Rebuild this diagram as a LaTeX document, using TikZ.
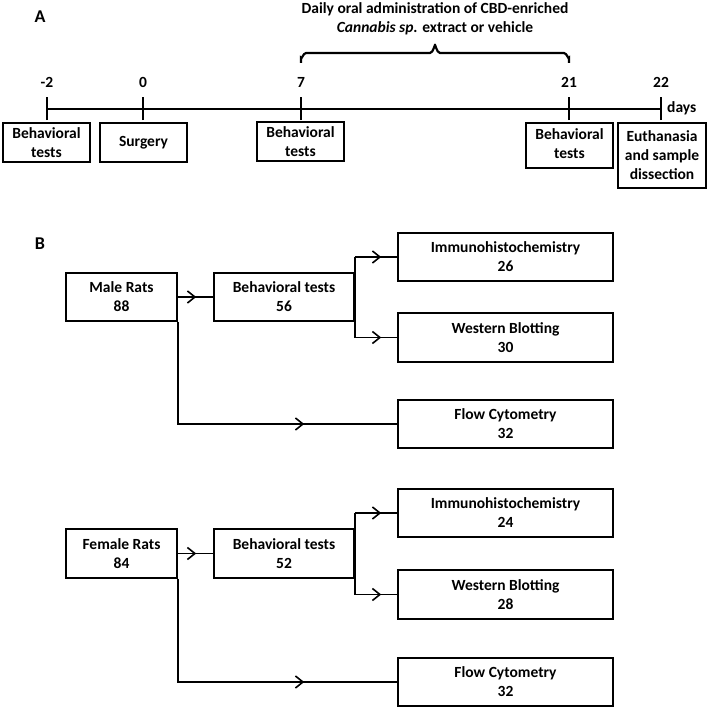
\documentclass[tikz,border=0pt]{standalone}
\usepackage{fontspec}
\setmainfont{Carlito}
\usetikzlibrary{arrows.meta,decorations.markings}
\begin{document}
\begin{tikzpicture}[x=1pt,y=-1pt,
  font=\fontsize{15.5}{19}\selectfont\bfseries,
  box/.style={draw,line width=1.6pt,inner sep=0pt,align=center},
  tl/.style={line width=2.8pt},
  conn/.style={line width=1.8pt},
  panel/.style={font=\fontsize{18}{20}\selectfont\bfseries},
  arr/.style={conn,decoration={markings,mark=at position #1 with {\arrow{Straight Barb[length=7.5pt,width=12pt,line width=1.6pt]}}},postaction={decorate}}]
\useasboundingbox (0,0) rectangle (709,709);
% Panel A
\node[panel] (lA) at (40,17) {A};
\coordinate (tm2) at (47,109);
\coordinate (t0) at (143,109);
\coordinate (t7) at (301,109);
\coordinate (t21) at (569,109);
\coordinate (t22) at (661,109);
\draw[tl] (tm2) -- (t22);
\foreach \c in {tm2,t0,t7,t21,t22}{
  \draw[tl] ([yshift=-11pt]\c) -- ([yshift=12pt]\c);
}
\node (nm2) at (47,82) {-2};
\node (n0) at (143,82) {0};
\node (n7) at (301,82) {7};
\node (n21) at (569,82) {21};
\node (n22) at (661,82) {22};
\node[anchor=west,inner sep=0pt] (days) at (667,108) {days};
\node[box,minimum width=87pt,minimum height=39pt,anchor=north] (a1) at (46.5,122) {Behavioral\\tests};
\node[box,minimum width=87pt,minimum height=39pt,anchor=north] (a2) at (143.5,122) {Surgery};
\node[box,minimum width=87pt,minimum height=39pt,anchor=north] (a3) at (300.5,121) {Behavioral\\tests};
\node[box,minimum width=87pt,minimum height=45pt,anchor=north] (a4) at (569.5,122) {};
\node[align=center,inner sep=0pt] (a4t) at (569.5,143.5) {Behavioral\\tests};
\node[box,minimum width=88pt,minimum height=65pt,anchor=north] (a5) at (662,122) {Euthanasia\\and sample\\dissection};
% brace
\draw[line width=2.2pt] (301,63) -- (301,58) to[out=-90,in=180] (306,53) -- (430,53)
  to[out=0,in=90] (435,46) to[out=90,in=180] (440,53) -- (564,53)
  to[out=0,in=-90] (569,58) -- (569,63);
\node[align=center] (trt) at (435,19) {Daily oral administration of CBD-enriched\\\textit{Cannabis sp.} extract or vehicle};
% Panel B
\node[panel] (lB) at (40,244) {B};
\node[box,minimum width=111pt,minimum height=48pt] (male) at (121.5,297) {Male Rats\\88};
\node[box,minimum width=140pt,minimum height=48pt] (beh1) at (284,297) {Behavioral tests\\56};
\node[box,minimum width=215pt,minimum height=48pt] (imm1) at (505.5,257) {Immunohistochemistry\\26};
\node[box,minimum width=215pt,minimum height=49pt] (wb1) at (505.5,337.5) {Western Blotting\\30};
\node[box,minimum width=215pt,minimum height=48pt] (fc1) at (505.5,424) {Flow Cytometry\\32};
\node[box,minimum width=111pt,minimum height=49pt] (female) at (121.5,553.5) {Female Rats\\84};
\node[box,minimum width=140pt,minimum height=49pt] (beh2) at (284,553.5) {Behavioral tests\\52};
\node[box,minimum width=215pt,minimum height=48pt] (imm2) at (505.5,513) {Immunohistochemistry\\24};
\node[box,minimum width=215pt,minimum height=49pt] (wb2) at (505.5,594.5) {Western Blotting\\28};
\node[box,minimum width=215pt,minimum height=48pt] (fc2) at (505.5,682) {Flow Cytometry\\32};
% connectors male
\draw[arr=-17pt] (male.east) -- (beh1.west);
\draw[conn] (beh1.east |- imm1.west) -- (beh1.east |- wb1.west);
\draw[arr=-16pt] (beh1.east |- imm1.west) -- (imm1.west);
\draw[arr=-16pt] (beh1.east |- wb1.west) -- (wb1.west);
\draw[arr=-93pt] (male.south east) |- (fc1.west);
% connectors female
\draw[arr=-17pt] (female.east) -- (beh2.west);
\draw[conn] (beh2.east |- imm2.west) -- (beh2.east |- wb2.west);
\draw[arr=-16pt] (beh2.east |- imm2.west) -- (imm2.west);
\draw[arr=-16pt] (beh2.east |- wb2.west) -- (wb2.west);
\draw[arr=-93pt] (female.south east) |- (fc2.west);
\end{tikzpicture}
\end{document}
